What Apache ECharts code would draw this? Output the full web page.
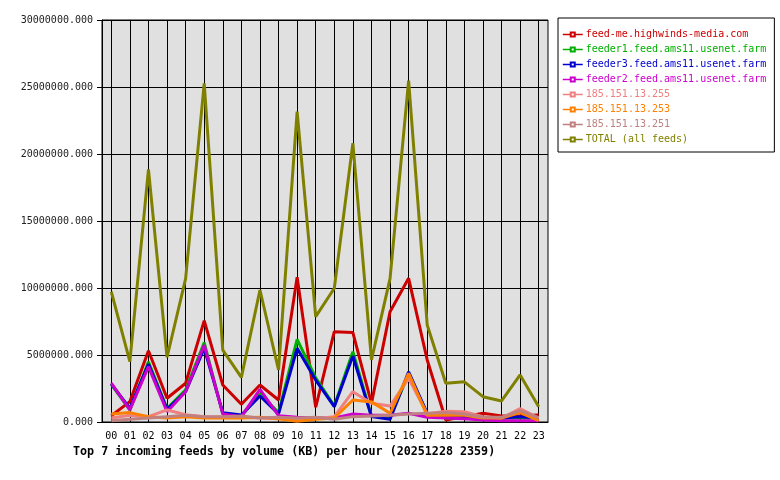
<!DOCTYPE html>
<html>
<head>
<meta charset="utf-8">
<script src="https://cdn.jsdelivr.net/npm/echarts@6/dist/echarts.min.js"></script>
<style>
html, body { margin: 0; padding: 0; background: #fff; }
#chart { width: 780px; height: 480px; }
</style>
</head>
<body>
<div id="chart"></div>
<script>
var hours = ['00','01','02','03','04','05','06','07','08','09','10','11',
             '12','13','14','15','16','17','18','19','20','21','22','23'];

var feedNames = ['feed-me.highwinds-media.com', 'feeder1.feed.ams11.usenet.farm',
                 'feeder3.feed.ams11.usenet.farm', 'feeder2.feed.ams11.usenet.farm',
                 '185.151.13.255', '185.151.13.253', '185.151.13.251', 'TOTAL (all feeds)'];

// KB per hour
var feedMe = [470000, 1520000, 5320000, 1770000, 2890000, 7560000, 2760000, 1320000,
              2760000, 1640000, 10800000, 1100000, 6740000, 6670000, 1390000, 8230000,
              10720000, 4630000, 150000, 400000, 650000, 450000, 470000, 520000];
var feeder1 = [2800000, 900000, 4500000, 1000000, 2400000, 5920000, 600000, 450000,
               2100000, 700000, 6170000, 3300000, 1200000, 5250000, 450000, 300000,
               3600000, 600000, 300000, 300000, 300000, 300000, 300000, 300000];
var feeder3 = [2840000, 1020000, 4330000, 950000, 2260000, 5500000, 700000, 520000,
               1940000, 600000, 5500000, 3130000, 1140000, 4930000, 400000, 200000,
               3750000, 650000, 400000, 400000, 300000, 300000, 400000, 300000];
var feeder2 = [2900000, 900000, 4130000, 770000, 2260000, 5750000, 600000, 400000,
               2440000, 470000, 350000, 300000, 300000, 600000, 500000, 500000,
               650000, 350000, 300000, 250000, 150000, 100000, 100000, 100000];
var ip255 = [300000, 500000, 400000, 900000, 550000, 400000, 350000, 350000,
             300000, 250000, 200000, 250000, 400000, 2260000, 1400000, 1190000,
             3260000, 600000, 800000, 770000, 400000, 300000, 1000000, 300000];
var ip253 = [600000, 700000, 400000, 300000, 400000, 300000, 300000, 300000,
             350000, 250000, 50000, 200000, 300000, 1640000, 1500000, 650000,
             3630000, 500000, 500000, 500000, 300000, 300000, 700000, 100000];
var ip251 = [100000, 200000, 300000, 400000, 500000, 400000, 400000, 450000,
             300000, 350000, 300000, 350000, 200000, 400000, 450000, 500000,
             600000, 650000, 700000, 600000, 350000, 350000, 850000, 300000];
var total = [9720000, 4500000, 18850000, 4830000, 10700000, 25270000, 5370000, 3330000,
             9850000, 3880000, 23160000, 7860000, 9980000, 20800000, 4630000, 10700000,
             25470000, 7240000, 2890000, 3000000, 1890000, 1570000, 3510000, 1140000];

var colors = ['#cc0000', '#00b000', '#0000cc', '#cc00cc', '#f08080', '#ff8000', '#c08080', '#808000'];
var seriesData = [feedMe, feeder1, feeder3, feeder2, ip255, ip253, ip251, total];

var monoFont = '"DejaVu Sans Mono", "Liberation Mono", monospace';

var myChart = echarts.init(document.getElementById('chart'));

var series = [];
var legendData = [];
for (var i = 0; i < feedNames.length; i++) {
    series.push({
        name: feedNames[i],
        type: 'line',
        data: seriesData[i],
        symbol: 'emptyRect',
        symbolSize: 4,
        showSymbol: false,
        animation: false,
        lineStyle: { width: 3, color: colors[i] },
        itemStyle: { color: colors[i] }
    });
    legendData.push({ name: feedNames[i], textStyle: { color: colors[i] } });
}

var option = {
    backgroundColor: '#ffffff',
    animation: false,
    title: {
        text: 'Top 7 incoming feeds by volume (KB) per hour (20251228 2359)',
        left: 73,
        top: 446,
        padding: 0,
        textStyle: { fontFamily: monoFont, fontSize: 11.7, fontWeight: 'bold', color: '#000' }
    },
    legend: {
        orient: 'vertical',
        left: 558,
        top: 18,
        padding: [11, 8, 7, 4],
        itemGap: 4,
        itemWidth: 20,
        itemHeight: 5,
        borderColor: '#000',
        borderWidth: 1,
        selectedMode: false,
        lineStyle: { width: 1.5 },
        itemStyle: { borderWidth: 1 },
        textStyle: { fontFamily: monoFont, fontSize: 10, lineHeight: 11, padding: [0, 0, 0, -2] },
        data: legendData
    },
    grid: {
        left: 102,
        top: 20,
        right: 232,
        bottom: 58,
        show: true,
        backgroundColor: '#e0e0e0',
        borderColor: '#000',
        borderWidth: 1
    },
    xAxis: {
        type: 'category',
        data: hours,
        boundaryGap: true,
        axisLine: { lineStyle: { color: '#000', width: 1 } },
        axisTick: { alignWithLabel: true, length: 4, lineStyle: { color: '#000' } },
        axisLabel: { fontFamily: monoFont, fontSize: 10, color: '#000', margin: 9, interval: 0 },
        splitLine: { show: true, alignWithLabel: true, lineStyle: { color: '#000', width: 1 } }
    },
    yAxis: {
        type: 'value',
        min: 0,
        max: 30000000,
        interval: 5000000,
        axisLine: { show: true, lineStyle: { color: '#000', width: 1 } },
        axisTick: { show: true, length: 5, lineStyle: { color: '#000' } },
        axisLabel: {
            fontFamily: monoFont, fontSize: 10, color: '#222', margin: 9,
            formatter: function (v) { return v.toFixed(3); }
        },
        splitLine: { show: true, lineStyle: { color: '#000', width: 1 } }
    },
    series: series
};

myChart.setOption(option);
</script>
</body>
</html>
